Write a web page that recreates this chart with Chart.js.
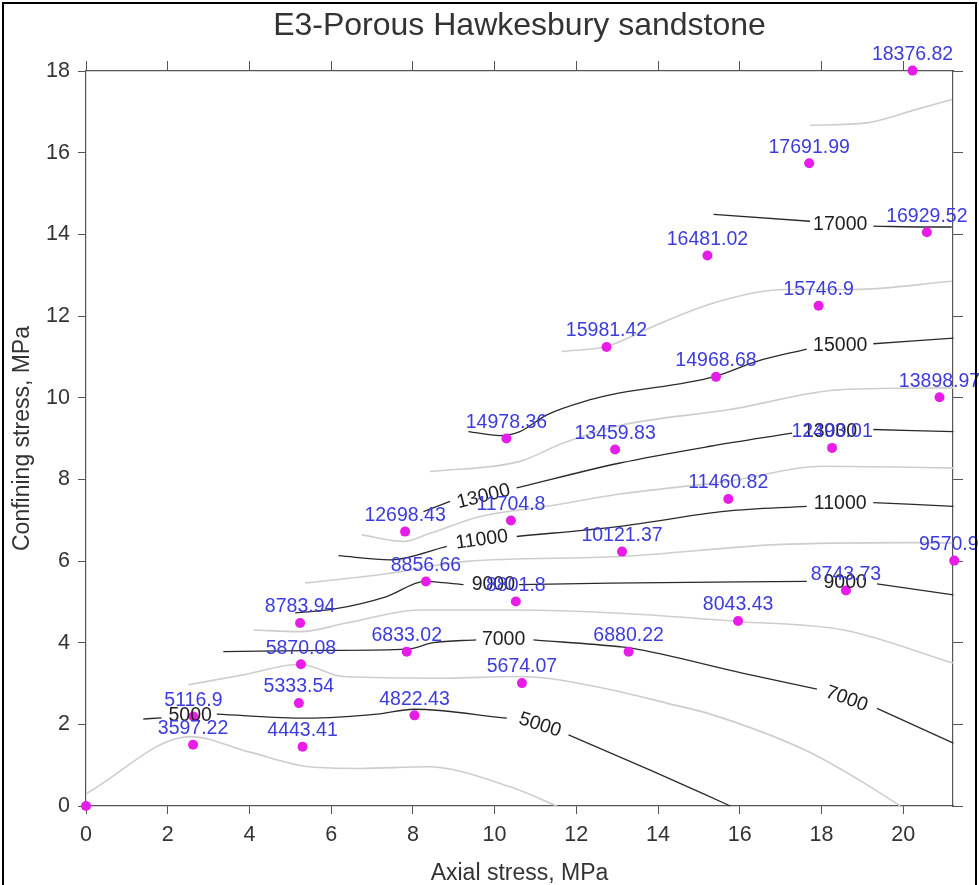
<!DOCTYPE html>
<html><head><meta charset="utf-8">
<script src="https://cdn.jsdelivr.net/npm/chart.js@4.4.1/dist/chart.umd.min.js"></script>
<style>
html,body{margin:0;padding:0;background:#fff;}
#wrap{position:absolute;left:0;top:0;width:979px;height:885px;}
#frame{position:absolute;left:2px;top:2px;width:971px;height:900px;border:2px solid #000;pointer-events:none;}
</style></head><body>
<div id="wrap"><canvas id="c"></canvas></div>
<div id="frame"></div>
<script>
const FONT = "'Liberation Sans', Arial, sans-serif";
const chartTitle = 'E3-Porous Hawkesbury sandstone';
const xAxisTitle = 'Axial stress, MPa';
const yAxisTitle = 'Confining stress, MPa';
const xTickValues = [0, 2, 4, 6, 8, 10, 12, 14, 16, 18, 20];
const yTickValues = [0, 2, 4, 6, 8, 10, 12, 14, 16, 18];

// measured points
const pointX = [0, 2.62, 2.63, 5.30, 5.21, 5.26, 8.04, 7.85, 10.67, 13.28, 5.24, 8.32, 10.52, 15.96, 18.60, 21.25, 13.12, 10.40, 7.81, 15.72, 12.95, 10.29, 18.26, 15.42, 20.89, 12.74, 17.93, 15.21, 20.58, 17.70, 20.23];
const pointY = [0, 1.50, 2.19, 1.45, 2.52, 3.47, 2.22, 3.78, 3.01, 3.78, 4.48, 5.50, 5.01, 4.53, 5.28, 6.01, 6.23, 6.99, 6.72, 7.52, 8.73, 9.00, 8.77, 10.51, 10.01, 11.24, 12.25, 13.48, 14.05, 15.74, 18.01];
const pointLabels = ['', '3597.22', '5116.9', '4443.41', '5333.54', '5870.08', '4822.43', '6833.02', '5674.07', '6880.22', '8783.94', '8856.66', '8801.8', '8043.43', '8743.73', '9570.96', '10121.37', '11704.8', '12698.43', '11460.82', '13459.83', '14978.36', '12493.01', '14968.68', '13898.97', '15981.42', '15746.9', '16481.02', '16929.52', '17691.99', '18376.82'];

// contour segments (x, y pairs), labelled levels are split where the label sits
const contour4000 = [[[0.02,0.31],[2.55,1.70],[4.01,1.32],[5.48,0.96],[6.71,0.92],[8.34,0.96],[10.38,0.47],[11.52,0.0]]];
const contour5000 = [[[1.40,2.13],[1.85,2.16]], [[3.20,2.25],[5.40,2.15],[7.12,2.25],[8.03,2.37],[10.30,2.15]], [[11.81,1.74],[13.81,0.88],[15.77,0.0]]];
const contour6000 = [[[2.50,2.97],[3.80,3.20],[5.24,3.47],[6.30,3.17],[8.83,3.13],[10.46,3.17],[11.28,3.13],[13.07,2.80],[14.21,2.52],[15.28,2.25],[17.60,1.37],[18.95,0.62],[19.93,0.0]]];
const contour7000 = [[[3.36,3.78],[5.97,3.81],[7.85,3.84],[8.50,4.00],[9.55,4.07]], [[10.95,4.07],[13.07,3.90],[13.32,3.87],[16.09,3.25],[17.89,2.86]], [[19.36,2.39],[21.23,1.54]]];
const contour8000 = [[[4.10,4.31],[5.24,4.27],[6.38,4.48],[8.18,4.80],[10.46,4.80],[13.07,4.72],[15.93,4.52],[18.54,4.31],[21.23,3.50]]];
const contour9000 = [[[5.12,4.73],[6.05,4.82],[7.36,5.13],[8.30,5.50],[8.75,5.47],[9.24,5.42]], [[10.60,5.42],[12.83,5.46],[17.64,5.50]], [[19.36,5.44],[21.23,5.17]]];
const contour10000 = [[[5.36,5.46],[7.44,5.70],[8.42,5.87],[9.32,5.99],[13.07,6.11],[16.91,6.40],[20.17,6.45],[21.23,6.44]]];
const contour11000 = [[[6.18,6.13],[7.44,6.03],[8.83,6.36]], [[10.54,6.60],[13.07,6.85],[15.68,7.22],[17.64,7.34]], [[19.27,7.43],[21.23,7.34]]];
const contour12000 = [[[6.75,6.64],[7.77,6.48],[8.42,6.68],[9.65,7.09],[11.28,7.34],[13.07,7.64],[15.68,7.95],[18.05,8.32],[21.23,8.28]]];
const contour13000 = [[[8.26,7.21],[8.91,7.46]], [[10.54,7.79],[13.07,8.40],[15.28,8.81],[17.28,9.13]], [[19.27,9.22],[21.23,9.17]]];
const contour14000 = [[[8.42,8.19],[10.62,8.44],[11.68,8.89],[13.07,9.32],[15.76,9.71],[18.54,10.20],[21.23,10.24]]];
const contour15000 = [[[9.36,9.17],[10.13,9.07],[10.62,9.17],[11.28,9.58],[12.34,9.95],[12.83,10.07],[15.36,10.51],[16.42,10.89],[17.64,11.19]], [[19.27,11.32],[21.23,11.46]]];
const contour16000 = [[[11.64,11.13],[12.75,11.26],[13.89,11.75],[15.36,12.32],[17.15,12.65],[18.78,12.65],[21.19,12.85]]];
const contour17000 = [[[15.36,14.49],[17.72,14.32]], [[19.27,14.20],[20.57,14.18],[21.19,14.18]]];
const contour18000 = [[[17.72,16.67],[19.11,16.73],[20.33,17.06],[21.19,17.30]]];

const majorContours = [contour5000, contour7000, contour9000, contour11000, contour13000, contour15000, contour17000];
const minorContours = [contour4000, contour6000, contour8000, contour10000, contour12000, contour14000, contour16000, contour18000];

const contourLabelText = ['5000', '5000', '7000', '7000', '9000', '9000', '11000', '11000', '13000', '13000', '15000', '17000'];
const contourLabelX = [2.55, 11.11, 10.22, 18.62, 9.97, 18.58, 9.69, 18.46, 9.73, 18.21, 18.46, 18.46];
const contourLabelY = [2.21, 1.98, 4.07, 2.62, 5.42, 5.46, 6.52, 7.40, 7.58, 9.17, 11.27, 14.24];
const contourLabelAngle = [0, 18, 0, 20, 0, 0, -8, 0, -14, 0, 0, 0];

const datasets = [];
datasets.push({
  data: pointX.map((x, i) => ({x, y: pointY[i]})),
  showLine: false, pointRadius: 5, pointHoverRadius: 5,
  pointBackgroundColor: '#e81ce8', pointBorderWidth: 0, clip: false
});
const lineStyle = {showLine: true, pointRadius: 0, pointHoverRadius: 0, cubicInterpolationMode: 'monotone', clip: false};
majorContours.forEach(level => level.forEach(seg => datasets.push(Object.assign({
  data: seg.map(p => ({x: p[0], y: p[1]})), borderColor: '#2a2a2a', borderWidth: 1.3
}, lineStyle))));
minorContours.forEach(level => level.forEach(seg => datasets.push(Object.assign({
  data: seg.map(p => ({x: p[0], y: p[1]})), borderColor: '#cdcdcd', borderWidth: 1.6
}, lineStyle))));

const annot = {
  id: 'annot',
  afterDatasetsDraw(chart) {
    const {ctx, scales: {x, y}} = chart;
    ctx.save();
    ctx.textAlign = 'center'; ctx.textBaseline = 'middle';
    ctx.font = `19.5px ${FONT}`; ctx.fillStyle = '#1e1e1e';
    contourLabelText.forEach((t, i) => {
      ctx.save();
      ctx.translate(x.getPixelForValue(contourLabelX[i]), y.getPixelForValue(contourLabelY[i]));
      ctx.rotate(contourLabelAngle[i] * Math.PI / 180);
      ctx.fillText(t, 0, 0);
      ctx.restore();
    });
    ctx.fillStyle = '#3c3cdc';
    pointLabels.forEach((t, i) => {
      if (!t) return;
      ctx.fillText(t, x.getPixelForValue(pointX[i]), y.getPixelForValue(pointY[i]) - 16);
    });
    ctx.restore();
  },
  afterDraw(chart) {
    const {ctx, chartArea} = chart;
    ctx.save();
    ctx.font = `32px ${FONT}`; ctx.fillStyle = '#333';
    ctx.textAlign = 'center'; ctx.textBaseline = 'middle';
    ctx.fillText(chartTitle, (chartArea.left + chartArea.right) / 2, 26);
    ctx.restore();
  }
};

const tickFont = {family: FONT, size: 21.5};
const axisGrid = (len) => ({display: true, drawOnChartArea: false, drawTicks: true, tickLength: len, color: '#555', lineWidth: 1});
const setTicks = (vals) => (s) => { s.ticks = vals.map(v => ({value: v})); };

new Chart(document.getElementById('c'), {
  type: 'scatter',
  data: {datasets},
  options: {
    responsive: true, maintainAspectRatio: false, animation: false, devicePixelRatio: 1,
    layout: {padding: {top: 59, left: 0, right: 0, bottom: 0}},
    plugins: {legend: {display: false}, tooltip: {enabled: false}, title: {display: false}},
    scales: {
      x: {type: 'linear', position: 'bottom', min: 0, max: 21.22,
        afterBuildTicks: setTicks(xTickValues),
        ticks: {font: tickFont, color: '#333', padding: 8, maxRotation: 0, autoSkip: false},
        grid: axisGrid(8), border: {display: true, color: '#555', width: 1.2},
        title: {display: true, text: xAxisTitle, font: {family: FONT, size: 23, lineHeight: 1}, color: '#333', padding: {top: 0, bottom: 0}},
        afterFit: s => { s.height = 79; }
      },
      x2: {type: 'linear', position: 'top', min: 0, max: 21.22,
        afterBuildTicks: setTicks(xTickValues),
        ticks: {display: false}, grid: axisGrid(10), border: {display: true, color: '#555', width: 1.2},
        afterFit: s => { s.height = 12; }
      },
      y: {type: 'linear', position: 'left', min: 0, max: 18,
        afterBuildTicks: setTicks(yTickValues),
        ticks: {font: tickFont, color: '#333', padding: 8, autoSkip: false},
        grid: axisGrid(8), border: {display: true, color: '#555', width: 1.2},
        title: {display: true, text: yAxisTitle, font: {family: FONT, size: 23}, color: '#333', padding: {top: 9, bottom: 0}},
        afterFit: s => { s.width = 86; }
      },
      y2: {type: 'linear', position: 'right', min: 0, max: 18,
        afterBuildTicks: setTicks(yTickValues),
        ticks: {display: false}, grid: axisGrid(10), border: {display: true, color: '#555', width: 1.2},
        afterFit: s => { s.width = 26; }
      }
    }
  },
  plugins: [annot]
});
</script></body></html>
